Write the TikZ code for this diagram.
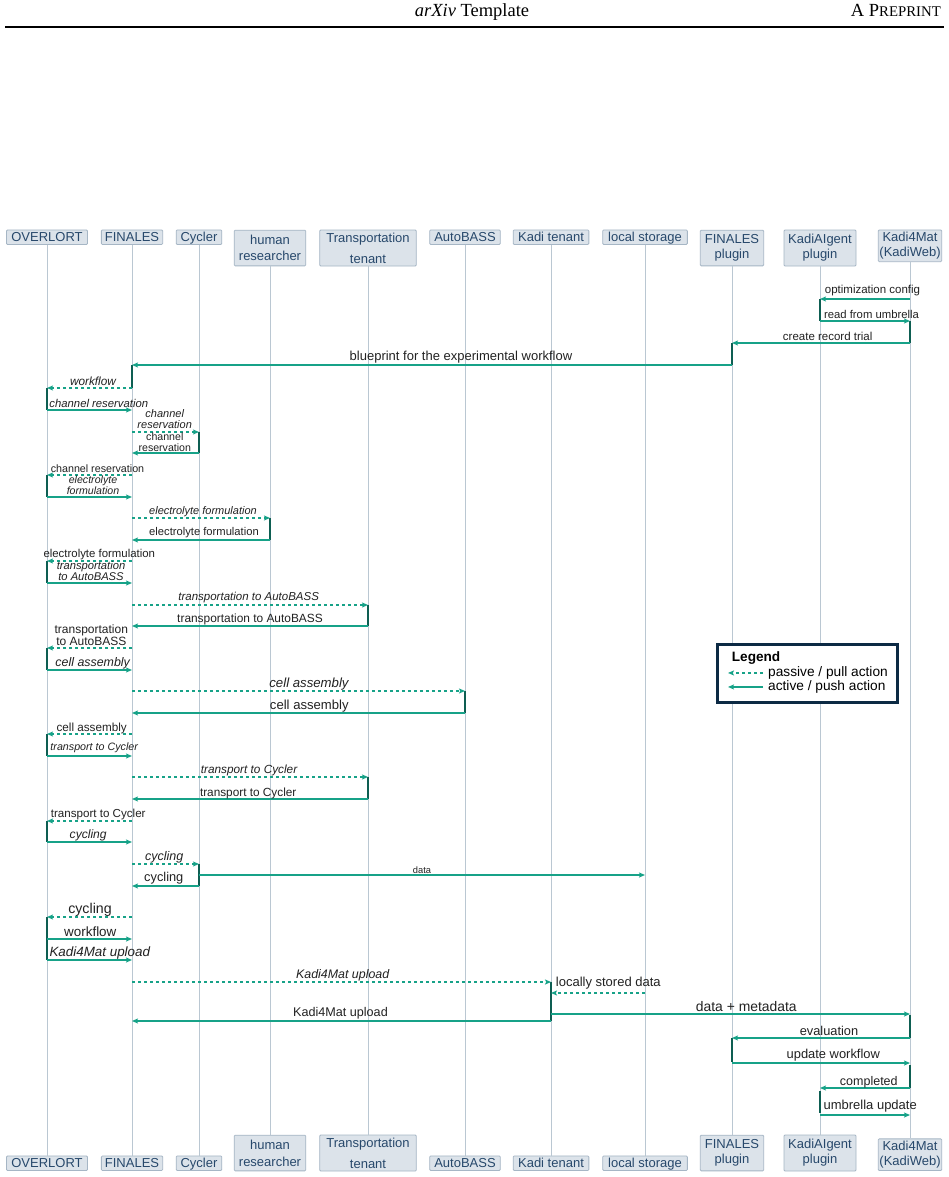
\documentclass[tikz,border=0pt]{standalone}
\usepackage{fontspec}
\setmainfont{Liberation Sans}
\newfontfamily\serifhdr{Liberation Serif}
\usetikzlibrary{arrows.meta}
\definecolor{tealc}{HTML}{17A288}
\definecolor{barc}{HTML}{0E5E52}
\definecolor{lifec}{HTML}{BAC7D2}
\definecolor{boxfill}{HTML}{DCE3EA}
\definecolor{boxdraw}{HTML}{A6B6C5}
\definecolor{boxtext}{HTML}{27486B}
\definecolor{lbltext}{HTML}{222222}
\definecolor{legc}{HTML}{0C2A44}
\tikzset{
  actor/.style={draw=boxdraw, fill=boxfill, line width=0.8pt, rounded corners=1pt, text=boxtext, inner sep=0pt, align=center, font=\fontsize{13}{15}\selectfont},
  actor1/.style={actor, minimum height=14.5pt, text height=9.4pt, text depth=0pt},
  life/.style={draw=lifec, line width=1pt},
  act/.style={draw=tealc, line width=1.2pt, -{Stealth[length=6pt,width=5pt,inset=1.2pt]}},
  pas/.style={act, dash pattern=on 3pt off 3pt},
  actbarst/.style={draw=barc, line width=2.6pt},
  lbl/.style={inner sep=0pt, text=lbltext, anchor=base},
  lblm/.style={inner sep=0pt, text=lbltext, anchor=south, align=center},
}
\newcommand\msg[9]{\draw[#1] (#2 |- 0,#4) -- node[lbl,font={\fontsize{#5}{#5}\selectfont#6},xshift=#7pt,yshift=#8pt]{#9} (#3 |- 0,#4);}
\newcommand\msgm[9]{\draw[#1] (#2 |- 0,#4) -- node[lblm,font={\fontsize{#5}{#5}\selectfont#6},xshift=#7pt,yshift=#8pt]{#9} (#3 |- 0,#4);}
\newcommand\actbar[3]{\draw[actbarst] (#1 |- 0,#2) -- (#1 |- 0,#3);}
\begin{document}
\begin{tikzpicture}[x=1pt,y=-1pt]
\useasboundingbox (0,0) rectangle (949,1177);
\fill[white] (0,0) rectangle (949,1177);
% page header
\node[anchor=base, inner sep=0pt, font=\serifhdr\fontsize{18.5}{20}\selectfont] (title) at (472,17) {\textit{arXiv} Template};
\node[anchor=base east, inner sep=0pt, font=\serifhdr\fontsize{18.5}{20}\selectfont] (prep) at (941,17) {A P{\fontsize{14.8}{16}\selectfont REPRINT}};
\draw[line width=1.1pt] (5,27) -- (944,27);
% top actors
\node[actor1, minimum width=81pt] (tOV) at (47,237.2) {OVERLORT};
\node[actor1, minimum width=61.3pt] (tFI) at (132,237.2) {FINALES};
\node[actor1, minimum width=45.6pt] (tCy) at (199,237.2) {Cycler};
\node[actor, minimum width=71.6pt, minimum height=35.7pt] (tHu) at (270,248) {human\\[1.7pt]researcher};
\node[actor, minimum width=96.6pt, minimum height=36pt] (tTr) at (368,248) {Transportation\\[6pt]tenant};
\node[actor1, minimum width=70.6pt] (tAB) at (465,237.2) {AutoBASS};
\node[actor1, minimum width=75.7pt] (tKT) at (551,237.2) {Kadi tenant};
\node[actor1, minimum width=84.7pt] (tLS) at (645,237.2) {local storage};
\node[actor, minimum width=63.4pt, minimum height=35.7pt] (tFP) at (732,248) {FINALES\\plugin};
\node[actor, minimum width=72pt, minimum height=36pt] (tKA) at (820,248) {KadiAIgent\\plugin};
\node[actor, minimum width=63.4pt, minimum height=31.7pt] (tKM) at (910,245.8) {Kadi4Mat\\(KadiWeb)};
% bottom actors
\node[actor1, minimum width=81pt] (bOV) at (47,1163.2) {OVERLORT};
\node[actor1, minimum width=61.3pt] (bFI) at (132,1163.2) {FINALES};
\node[actor1, minimum width=45.6pt] (bCy) at (199,1163.2) {Cycler};
\node[actor, minimum width=71.6pt, minimum height=35.7pt] (bHu) at (270,1153) {human\\[1.7pt]researcher};
\node[actor, minimum width=96.6pt, minimum height=36pt] (bTr) at (368,1153) {Transportation\\[6pt]tenant};
\node[actor1, minimum width=70.6pt] (bAB) at (465,1163.2) {AutoBASS};
\node[actor1, minimum width=75.7pt] (bKT) at (551,1163.2) {Kadi tenant};
\node[actor1, minimum width=84.7pt] (bLS) at (645,1163.2) {local storage};
\node[actor, minimum width=63.4pt, minimum height=35.7pt] (bFP) at (732,1153) {FINALES\\plugin};
\node[actor, minimum width=72pt, minimum height=36pt] (bKA) at (820,1153) {KadiAIgent\\plugin};
\node[actor, minimum width=63.4pt, minimum height=31.7pt] (bKM) at (910,1154.7) {Kadi4Mat\\(KadiWeb)};
% lifelines
\foreach \a in {OV,FI,Cy,Hu,Tr,AB,KT,LS,FP,KA,KM}{\draw[life] (t\a) -- (b\a);}
% activation bars
\actbar{tKA}{299}{321}
\actbar{tKM}{321}{343}
\actbar{tFP}{343}{365}
\actbar{tFI}{365}{388}
\actbar{tOV}{388}{410}
\actbar{tCy}{432}{453}
\actbar{tOV}{475}{497}
\actbar{tHu}{518}{540}
\actbar{tOV}{561}{583}
\actbar{tTr}{605}{626}
\actbar{tOV}{648}{670}
\actbar{tAB}{691}{713}
\actbar{tOV}{734}{756}
\actbar{tTr}{777}{799}
\actbar{tOV}{821}{842}
\actbar{tCy}{864}{886}
\actbar{tOV}{917}{960}
\actbar{tKT}{982}{1021}
\actbar{tKM}{1015}{1038}
\actbar{tFP}{1038}{1062}
\actbar{tKM}{1065}{1088}
\actbar{tKA}{1091}{1113}
% messages
\msg{act}{tKM}{tKA}{299}{11.5}{}{7.5}{5.7}{optimization config}
\msg{act}{tKA}{tKM}{321}{11.3}{}{6.5}{2.7}{read from umbrella}
\msg{act}{tKM}{tFP}{343}{11.5}{}{6.7}{3}{create record trial}
\msg{act}{tFP}{tFI}{365}{13}{}{29}{4.5}{blueprint for the experimental workflow}
\msg{pas}{tFI}{tOV}{388}{11.8}{\itshape}{3.5}{3}{workflow}
\msg{act}{tOV}{tFI}{410}{11.3}{\itshape}{9.3}{3}{channel reservation}
\msgm{pas}{tFI}{tCy}{432}{11}{\itshape}{-0.8}{3}{channel\\reservation}
\msgm{act}{tCy}{tFI}{453}{10.6}{}{-0.7}{1}{channel\\reservation}
\msg{pas}{tFI}{tOV}{475}{10.7}{}{8}{3}{channel reservation}
\msgm{act}{tOV}{tFI}{497}{10.6}{\itshape}{3.5}{2.3}{electrolyte\\formulation}
\msg{pas}{tFI}{tHu}{518}{11}{\itshape}{2}{4}{electrolyte formulation}
\msg{act}{tHu}{tFI}{540}{11.2}{}{3}{5}{electrolyte formulation}
\msg{pas}{tFI}{tOV}{561}{11.4}{}{9.8}{4}{electrolyte formulation}
\msgm{act}{tOV}{tFI}{583}{11.2}{\itshape}{1.5}{1.5}{transportation\\to AutoBASS}
\msg{pas}{tFI}{tTr}{605}{11.5}{\itshape}{-1.3}{4.3}{transportation to AutoBASS}
\msg{act}{tTr}{tFI}{626}{11.9}{}{0}{3.2}{transportation to AutoBASS}
\msgm{pas}{tFI}{tOV}{648}{12}{}{1.8}{2}{transportation\\to AutoBASS}
\msg{act}{tOV}{tFI}{670}{12.4}{\itshape}{3.2}{4}{cell assembly}
\msg{pas}{tFI}{tAB}{691}{13.2}{\itshape}{10.5}{4}{cell assembly}
\msg{act}{tAB}{tFI}{713}{13.1}{}{10.8}{4}{cell assembly}
\msg{pas}{tFI}{tOV}{734}{11.7}{}{2.2}{3}{cell assembly}
\msg{act}{tOV}{tFI}{756}{10.7}{\itshape}{4.7}{5.3}{transport to Cycler}
\msg{pas}{tFI}{tTr}{777}{11.8}{\itshape}{-1}{3.2}{transport to Cycler}
\msg{act}{tTr}{tFI}{799}{11.8}{}{-1.8}{3}{transport to Cycler}
\msg{pas}{tFI}{tOV}{821}{11.6}{}{8.7}{3.7}{transport to Cycler}
\msg{act}{tOV}{tFI}{842}{12.1}{\itshape}{-1.3}{3.5}{cycling}
\msg{pas}{tFI}{tCy}{864}{12.5}{\itshape}{-1.3}{4}{cycling}
\msg{act}{tCy}{tFI}{886}{12.8}{}{-1.7}{4.5}{cycling}
\msg{act}{tCy}{tLS}{875}{9.3}{}{0}{2}{data}
\msg{pas}{tFI}{tOV}{917}{14.2}{}{0.5}{4}{cycling}
\msg{act}{tOV}{tFI}{939}{13.4}{}{0.8}{2.5}{workflow}
\msg{act}{tOV}{tFI}{960}{13.4}{\itshape}{10.3}{4}{Kadi4Mat upload}
\msg{pas}{tFI}{tKT}{982}{12.4}{\itshape}{1.2}{3.5}{Kadi4Mat upload}
\msg{pas}{tLS}{tKT}{993}{13}{}{10.3}{6.5}{locally stored data}
\msg{act}{tKT}{tKM}{1014}{13.9}{}{15.8}{2.5}{data + metadata}
\msg{act}{tKT}{tFI}{1021}{12.6}{}{-1}{4.5}{Kadi4Mat upload}
\msg{act}{tKM}{tFP}{1038}{12.8}{}{8}{3}{evaluation}
\msg{act}{tFP}{tKM}{1063}{12.9}{}{12.3}{4.5}{update workflow}
\msg{act}{tKM}{tKA}{1088}{12.5}{}{3.8}{3}{completed}
\msg{act}{tKA}{tKM}{1115}{13}{}{5.2}{5.2}{umbrella update}
% legend
\node[draw=legc, fill=white, line width=3pt, minimum width=180.3pt, minimum height=57.7pt, inner sep=0pt] (leg) at (807.65,673.65) {};
\node[anchor=base west, inner sep=0pt, font=\fontsize{13.6}{14}\selectfont\bfseries] (legT) at (731.7,661.5) {Legend};
\node[anchor=base west, inner sep=0pt, font=\fontsize{13.7}{14}\selectfont] (legP) at (768,676.5) {passive / pull action};
\node[anchor=base west, inner sep=0pt, font=\fontsize{13.7}{14}\selectfont] (legA) at (768,690.5) {active / push action};
\draw[pas] ([xshift=-5pt]legP.west) -- ([xshift=-40pt]legP.west);
\draw[act] ([xshift=-5pt]legA.west) -- ([xshift=-40pt]legA.west);
\end{tikzpicture}
\end{document}
